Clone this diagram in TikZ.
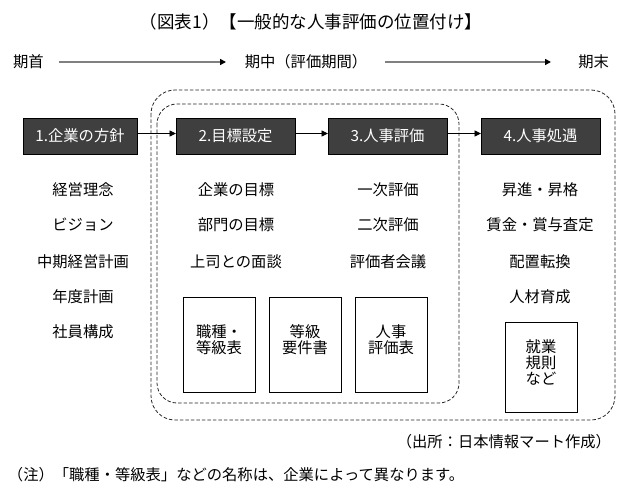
\documentclass[tikz,border=0pt]{standalone}
\usepackage{fontspec}
\setmainfont{Noto Sans CJK JP}
\usetikzlibrary{arrows.meta,calc}
\definecolor{boxgray}{HTML}{3F3F3F}
\definecolor{linegray}{HTML}{808080}
\begin{document}
\begin{tikzpicture}[x=1pt,y=-1pt,
  every node/.style={inner sep=0pt, outer sep=0pt},
  txt/.style={font=\fontsize{15.3}{16}\selectfont},
  titletxt/.style={font=\fontsize{17.5}{18}\selectfont},
  stepbox/.style={draw=black, fill=boxgray, text=white, minimum height=36pt, line width=0.8pt, font=\fontsize{15.3}{16}\selectfont},
  docbox/.style={draw=black, line width=0.8pt, fill=white, minimum width=72pt},
  doctxt/.style={font=\fontsize{15.3}{16}\selectfont, align=center},
  flow/.style={line width=0.9pt, -{Triangle[length=6.5pt,width=6pt]}},
  timeline/.style={draw=linegray, line width=1.8pt, -{Triangle[length=6pt,width=6pt,fill=black,color=black]}},
  dashbox/.style={draw=black!85, line width=0.8pt, dash pattern=on 3.5pt off 2pt}
]
\useasboundingbox (0,0) rectangle (624,497);

% title
\node[titletxt] (title) at (311,22) {（図表1）【一般的な人事評価の位置付け】};

% timeline
\node[txt, anchor=west] (t1) at (13,62) {期首};
\node[txt] (t2) at (306,62) {期中（評価期間）};
\node[txt, anchor=east] (t3) at (609,62) {期末};
\coordinate (a1s) at (59,62);
\coordinate (a1e) at (226,62);
\coordinate (a2s) at (385,62);
\coordinate (a2e) at (551,62);
\draw[timeline] (a1s) -- (a1e);
\draw[timeline] (a2s) -- (a2e);

% dashed frames
\draw[dashbox, rounded corners=24pt] (151,90) rectangle (615,420);
\draw[dashbox, rounded corners=20pt] (157,104) rectangle (459,403);

% step boxes
\node[stepbox, minimum width=114pt] (s1) at (80,136) {1.企業の方針};
\node[stepbox, minimum width=119pt] (s2) at (235.5,136) {2.目標設定};
\node[stepbox, minimum width=119pt] (s3) at (387.5,136) {3.人事評価};
\node[stepbox, minimum width=119pt] (s4) at (540.5,136) {4.人事処遇};
\draw[flow] ([yshift=2.5pt]s1.east) -- ([yshift=2.5pt]s2.west);
\draw[flow] ([yshift=2.5pt]s2.east) -- ([yshift=2.5pt]s3.west);
\draw[flow] ([yshift=2.5pt]s3.east) -- ([yshift=2.5pt]s4.west);

% column 1
\node[txt] (c1a) at (83,190) {経営理念};
\node[txt] (c1b) at (83,225) {ビジョン};
\node[txt] (c1c) at (83,262) {中期経営計画};
\node[txt] (c1d) at (83,297) {年度計画};
\node[txt] (c1e) at (83,332) {社員構成};

% column 2
\node[txt] (c2a) at (236,190) {企業の目標};
\node[txt] (c2b) at (236,225) {部門の目標};
\node[txt] (c2c) at (236,262) {上司との面談};

% column 3
\node[txt] (c3a) at (388,190) {一次評価};
\node[txt] (c3b) at (388,225) {二次評価};
\node[txt] (c3c) at (388,262) {評価者会議};

% column 4
\node[txt] (c4a) at (540,190) {昇進・昇格};
\node[txt] (c4b) at (540,225) {賃金・賞与査定};
\node[txt] (c4c) at (540,262) {配置転換};
\node[txt] (c4d) at (540,297) {人材育成};

% document boxes
\node[docbox, minimum height=95pt] (d1) at (219,344.5) {};
\node[docbox, minimum height=95pt] (d2) at (305,344.5) {};
\node[docbox, minimum height=95pt] (d3) at (391,344.5) {};
\node[docbox, minimum height=90pt] (d4) at (541,367) {};
\node[doctxt] (d1t) at ($(d1.center)+(0,-4.5)$) {職種・\\等級表};
\node[doctxt] (d2t) at ($(d2.center)+(0,-4.5)$) {等級\\要件書};
\node[doctxt] (d3t) at ($(d3.center)+(0,-4.5)$) {人事\\評価表};
\node[doctxt] (d4t) at ($(d4.center)+(0,-5)$) {就業\\規則\\など};

% source and note
\node[txt, anchor=east] (src) at (611,442) {（出所：日本情報マート作成）};
\node[txt, anchor=west] (note) at (8,475) {（注）「職種・等級表」などの名称は、企業によって異なります。};
\end{tikzpicture}
\end{document}
